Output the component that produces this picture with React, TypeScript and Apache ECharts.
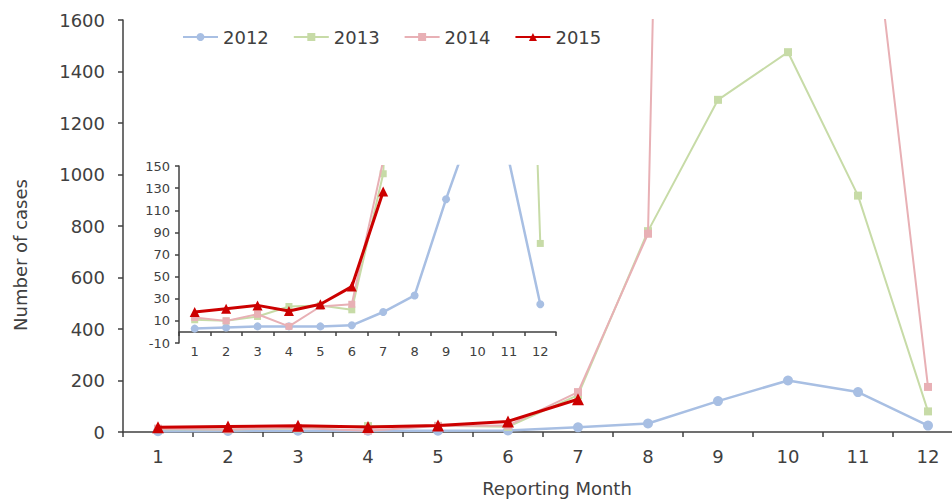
import React, { useEffect, useRef } from 'react';
import * as echarts from 'echarts';

const months = ['1', '2', '3', '4', '5', '6', '7', '8', '9', '10', '11', '12'];
const cases2012 = [3, 4, 5, 5, 5, 6, 18, 33, 120, 200, 155, 25];
const cases2013 = [11, 10, 14, 23, 24, 20, 143, 780, 1290, 1475, 918, 80];
const cases2014 = [13, 10, 16, 5, 23, 25, 155, 770, 13000, 20000, 2500, 175];
const cases2015 = [18, 21, 24, 19, 25, 41, 127, null, null, null, null, null];
const yearNames = ['2012', '2013', '2014', '2015'];
const insetYTicks = [-10, 10, 30, 50, 70, 90, 110, 130, 150];

const FONT = 'DejaVu Sans';
const TEXT = '#404040';
const AXIS = '#404040';

const styles = [
  { color: '#a8bfe3', symbol: 'circle', size: 10, insetSize: 8, width: 2.5 },
  { color: '#c7dba7', symbol: 'rect', size: 8, insetSize: 7, width: 2 },
  { color: '#e8b0b5', symbol: 'rect', size: 8, insetSize: 7, width: 2 },
  { color: '#cc0000', symbol: 'triangle', size: 12, insetSize: 10, width: 3 },
];

export default function App() {
  const ref = useRef<HTMLDivElement>(null);
  useEffect(() => {
    if (!ref.current) return;
    const chart = echarts.init(ref.current, undefined, { renderer: 'svg' });
    const dataSets = [cases2012, cases2013, cases2014, cases2015];
    const series: any[] = [];
    [0, 1].forEach((g) => {
      dataSets.forEach((d, i) => {
        const s = styles[i];
        series.push({
          type: 'line',
          name: yearNames[i],
          xAxisIndex: g,
          yAxisIndex: g,
          data: d,
          symbol: s.symbol,
          symbolSize: g === 0 ? s.size : s.insetSize,
          showAllSymbol: true,
          clip: true,
          itemStyle: { color: s.color },
          lineStyle: { color: s.color, width: s.width },
          z: 2 + i,
        });
      });
    });
    chart.setOption({
      animation: false,
      backgroundColor: '#ffffff',
      textStyle: { fontFamily: FONT },
      legend: {
        data: yearNames,
        left: 182,
        top: 28,
        padding: 0,
        itemWidth: 35,
        itemHeight: 10,
        itemGap: 24,
        textStyle: { fontSize: 18, color: TEXT, fontFamily: FONT },
      },
      grid: [
        { left: 123, top: 20, right: -11, bottom: 68, outerBoundsMode: 'none', containLabel: false },
        { left: 179, top: 166, right: 396, bottom: 157, outerBoundsMode: 'none', containLabel: false },
      ],
      xAxis: [
        {
          type: 'category',
          gridIndex: 0,
          data: months,
          boundaryGap: true,
          axisLine: { lineStyle: { color: AXIS, width: 1.5 } },
          axisTick: { show: true, length: 5, lineStyle: { color: AXIS, width: 1.5 } },
          axisLabel: { fontSize: 18, color: TEXT, margin: 15, fontFamily: FONT },
        },
        {
          type: 'category',
          gridIndex: 1,
          data: months,
          boundaryGap: true,
          axisLine: { onZero: true, lineStyle: { color: AXIS, width: 1.5 } },
          axisTick: { show: true, length: 4, lineStyle: { color: AXIS, width: 1.5 } },
          axisLabel: { fontSize: 13, color: TEXT, margin: 2, fontFamily: FONT },
        },
      ],
      yAxis: [
        {
          type: 'value',
          gridIndex: 0,
          min: 0,
          max: 1600,
          interval: 200,
          splitLine: { show: false },
          axisLine: { show: true, lineStyle: { color: AXIS, width: 1.5 } },
          axisTick: { show: true, length: 5, lineStyle: { color: AXIS, width: 1.5 } },
          axisLabel: {
            fontSize: 18,
            color: TEXT,
            margin: 18,
            fontFamily: FONT,
            formatter: (v: number) => String(v),
          },
        },
        {
          type: 'value',
          gridIndex: 1,
          min: -10,
          max: 150,
          splitLine: { show: false },
          axisLine: { show: true, onZero: false, lineStyle: { color: AXIS, width: 1.5 } },
          axisTick: { show: true, length: 4, customValues: insetYTicks, lineStyle: { color: AXIS, width: 1.5 } },
          axisLabel: {
            fontSize: 13,
            color: TEXT,
            margin: 9,
            customValues: insetYTicks,
            fontFamily: FONT,
            formatter: (v: number) => String(v),
          },
        },
      ],
      graphic: [
        {
          type: 'text',
          x: 20,
          y: 255,
          rotation: Math.PI / 2,
          style: {
            text: 'Number of cases',
            fill: TEXT,
            font: `18px "${FONT}"`,
            align: 'center',
            verticalAlign: 'middle',
            textAlign: 'center',
            textVerticalAlign: 'middle',
          },
        },
        {
          type: 'text',
          x: 557,
          y: 488,
          style: {
            text: 'Reporting Month',
            fill: TEXT,
            font: `18px "${FONT}"`,
            align: 'center',
            verticalAlign: 'middle',
            textAlign: 'center',
            textVerticalAlign: 'middle',
          },
        },
      ],
      series,
    });
    return () => chart.dispose();
  }, []);
  return (
    <div
      ref={ref}
      style={{ position: 'fixed', left: 0, top: 0, width: 952, height: 500, background: '#fff' }}
    />
  );
}
